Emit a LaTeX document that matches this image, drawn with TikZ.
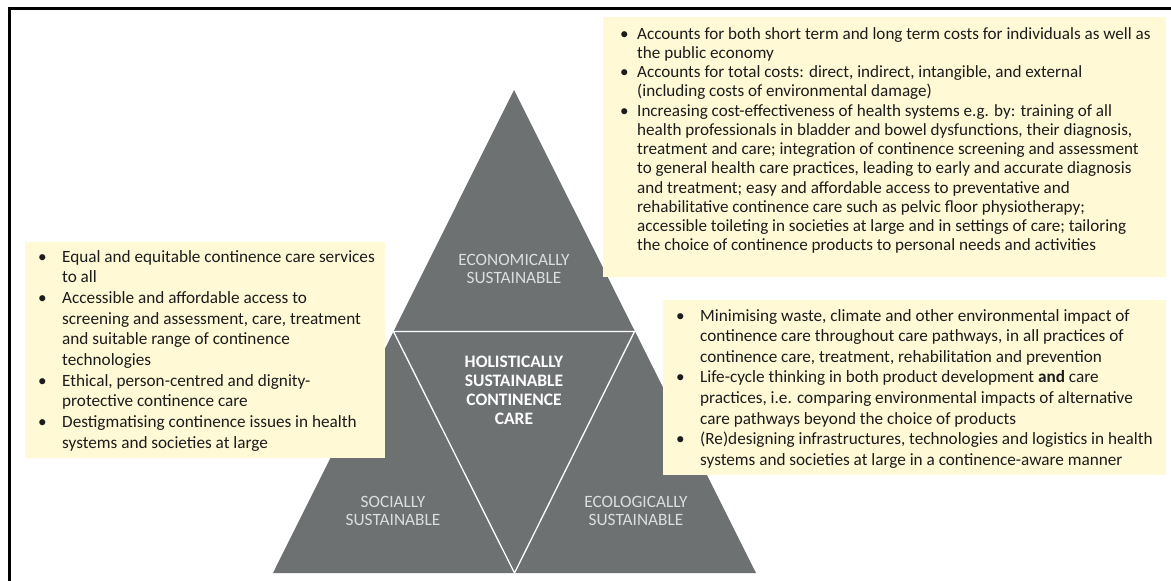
\documentclass[tikz,border=0pt]{standalone}
\usepackage{fontspec}
\setmainfont{Carlito}
\usepackage{array}
\definecolor{tri}{RGB}{110,113,114}
\definecolor{boxy}{RGB}{255,249,214}
\definecolor{lbl}{RGB}{220,222,222}
\definecolor{txt}{RGB}{28,28,28}
\begin{document}
\begin{tikzpicture}[x=1pt,y=-1pt,
  lab/.style={align=center,text=lbl,inner sep=0pt,font=\fontsize{17.3}{18.5}\selectfont},
  hol/.style={align=center,text=white,inner sep=0pt,font=\fontsize{17.5}{19}\selectfont\bfseries},
  boxtext/.style={anchor=base west,inner sep=0pt,text=txt},
  yel/.style={fill=boxy},
  sep/.style={draw=white,line width=1.3pt}]
\useasboundingbox (0,0) rectangle (1171,581);
\fill[white] (0,0) rectangle (1171,581);
\draw[line width=3pt] (9,581) -- (9,8.5) -- (1171,8.5);
% triangle
\coordinate (A) at (514,90);
\coordinate (BL) at (273,573);
\coordinate (BR) at (756,573);
\coordinate (ML) at (393.5,331.5);
\coordinate (MR) at (634.5,331.5);
\coordinate (MB) at (514.5,573);
\fill[tri] (A) -- (BL) -- (BR) -- cycle;
\draw[sep] (ML) -- (MR) -- (MB) -- cycle;
\node[lab] (eco) at (514,269) {ECONOMICALLY\\SUSTAINABLE};
\node[hol] (holi) at (514,390) {HOLISTICALLY\\SUSTAINABLE\\CONTINENCE\\CARE};
\node[lab] (soc) at (393,511) {SOCIALLY\\SUSTAINABLE};
\node[lab] (ecol) at (636,511) {ECOLOGICALLY\\SUSTAINABLE};
% top right box
\fill[yel] (603,17) rectangle (1166,277);
\node[boxtext] (econtext) at (620,39) {\fontsize{17.1}{19.25}\selectfont
\begin{tabular}[t]{@{}p{17pt}@{}l@{}}
\textbullet & Accounts for both short term and long term costs for individuals as well as\\
 & the public economy\\
\textbullet & Accounts for total costs: direct, indirect, intangible, and external\\
 & (including costs of environmental damage)\\
\textbullet & Increasing cost-effectiveness of health systems e.g. by: training of all\\
 & health professionals in bladder and bowel dysfunctions, their diagnosis,\\
 & treatment and care; integration of continence screening and assessment\\
 & to general health care practices, leading to early and accurate diagnosis\\
 & and treatment; easy and affordable access to preventative and\\
 & rehabilitative continence care such as pelvic floor physiotherapy;\\
 & accessible toileting in societies at large and in settings of care; tailoring\\
 & the choice of continence products to personal needs and activities
\end{tabular}};
% left box
\fill[yel] (25,242) rectangle (385,458);
\node[boxtext] (soctext) at (38,262) {\fontsize{17.2}{20.7}\selectfont
\begin{tabular}[t]{@{}p{24pt}@{}l@{}}
\textbullet & Equal and equitable continence care services\\
 & to all\\
\textbullet & Accessible and affordable access to\\
 & screening and assessment, care, treatment\\
 & and suitable range of continence\\
 & technologies\\
\textbullet & Ethical, person-centred and dignity-\\
 & protective continence care\\
\textbullet & Destigmatising continence issues in health\\
 & systems and societies at large
\end{tabular}};
% right box
\fill[yel] (663,300) rectangle (1166,475);
\node[boxtext] (ecoltext) at (676,321) {\fontsize{17.2}{20.6}\selectfont
\begin{tabular}[t]{@{}p{24pt}@{}l@{}}
\textbullet & Minimising waste, climate and other environmental impact of\\
 & continence care throughout care pathways, in all practices of\\
 & continence care, treatment, rehabilitation and prevention\\
\textbullet & Life-cycle thinking in both product development \textbf{and} care\\
 & practices, i.e. comparing environmental impacts of alternative\\
 & care pathways beyond the choice of products\\
\textbullet & (Re)designing infrastructures, technologies and logistics in health\\
 & systems and societies at large in a continence-aware manner
\end{tabular}};
\end{tikzpicture}
\end{document}
